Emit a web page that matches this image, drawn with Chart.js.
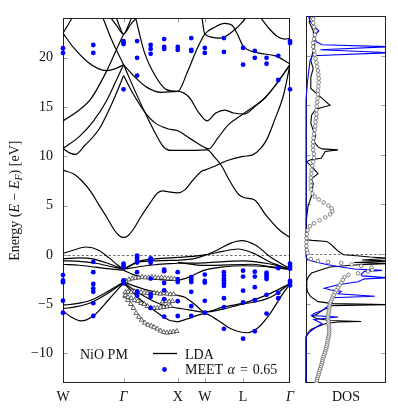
<!DOCTYPE html>
<html>
<head>
<meta charset="utf-8">
<script src="https://cdn.jsdelivr.net/npm/chart.js@4.4.0/dist/chart.umd.min.js"></script>
<style>
  html, body { margin: 0; padding: 0; background: #fff; }
  #wrap { position: relative; width: 398px; height: 418px; }
  #bands { position: absolute; left: 0; top: 0; width: 300px; height: 418px; }
  #dos { position: absolute; left: 296px; top: 0; width: 102px; height: 418px; }
</style>
</head>
<body>
<div id="wrap">
  <canvas id="bands" width="300" height="418"></canvas>
  <canvas id="dos" width="102" height="418"></canvas>
</div>
<script>
// High-symmetry path (units of 2π/a) and energy ticks
const kTicks = [0, 1.118, 2.118, 2.618, 3.325, 4.191];
const kLabels = ['W', 'Γ', 'X', 'W', 'L', 'Γ'];
const energyTicks = [-10, -5, 0, 5, 10, 15, 20];

// LDA bands, [k, E] pairs, conduction side
const bandU1 = [[0, 22.5], [0.1, 23.4], [0.19, 24.3]];
const bandU2 = [[0, 22.5], [0.2, 21.0], [0.45, 19.6], [0.65, 18.9], [0.8, 18.7], [0.97, 18.9], [1.118, 19.3]];
const bandU3 = [[0, 13.6], [0.25, 14.5], [0.51, 15.8], [0.81, 18.7], [1.0, 21.0], [1.118, 22.4]];
const bandU4 = [[0, 10.8], [0.3, 12.0], [0.55, 13.5], [0.8, 15.6], [1.0, 17.9], [1.118, 19.3]];
const bandU5 = [[0, 10.8], [0.12, 10.35], [0.23, 10.2], [0.4, 11.1], [0.67, 12.8], [0.97, 16.2], [1.118, 18.2]];
const bandU6 = [[0.85, 24.3], [1.0, 23.2], [1.118, 22.4], [1.2, 23.2], [1.28, 24.3]];
const bandU7 = [[0.97, 24.3], [1.05, 23.1], [1.118, 22.4], [1.25, 23.4], [1.4, 24.3]];
const bandC1 = [[0, 8.6], [0.2, 8.2], [0.35, 7.5], [0.51, 6.45], [0.66, 5.1], [0.81, 3.8], [0.95, 2.5], [1.04, 1.95], [1.118, 1.77],
                [1.2, 1.95], [1.3, 2.6], [1.43, 3.8], [1.6, 5.2], [1.75, 6.3], [1.84, 6.5], [1.95, 6.4], [2.118, 6.3], [2.25, 6.6],
                [2.4, 7.6], [2.56, 8.5], [2.618, 8.6], [2.8, 9.0], [3.05, 9.6], [3.325, 10.0], [3.5, 10.15], [3.65, 10.8],
                [3.77, 11.8], [3.9, 13.6], [4.07, 16.2], [4.191, 19.3]];
const bandC2 = [[0.72, 24.3], [0.9, 21.8], [1.118, 19.3], [1.3, 17.0], [1.5, 14.6], [1.69, 12.5], [1.85, 11.0], [1.99, 10.6],
                [2.118, 10.6], [2.4, 10.6], [2.66, 10.65], [2.8, 9.9], [2.92, 9.1], [3.1, 7.3], [3.25, 6.1], [3.35, 5.8],
                [3.53, 5.6], [3.75, 4.0], [4.0, 2.5], [4.191, 1.77]];
const bandC3 = [[1.118, 18.2], [1.3, 16.3], [1.51, 14.5], [1.7, 13.4], [1.93, 12.8], [2.118, 12.6], [2.35, 11.8], [2.618, 10.9],
                [2.69, 10.75], [2.85, 11.8], [3.05, 13.2], [3.325, 14.3], [3.74, 16.0], [4.0, 17.8], [4.191, 19.3]];
const bandC4 = [[1.118, 19.3], [1.3, 18.2], [1.55, 17.0], [1.81, 16.5], [2.118, 16.6], [2.33, 16.0], [2.5, 14.5], [2.66, 13.6],
                [2.82, 14.4], [2.99, 14.7], [3.15, 14.4], [3.35, 14.3], [3.55, 15.1], [3.74, 16.0], [4.0, 17.8], [4.191, 19.3]];
const bandC5 = [[1.33, 24.3], [1.5, 20.6], [1.7, 18.2], [1.9, 16.8], [2.118, 16.6], [2.3, 18.6], [2.45, 20.6], [2.618, 22.4],
                [2.8, 23.1], [2.98, 23.5], [3.12, 23.3], [3.22, 22.4], [3.325, 21.2], [3.6, 20.5], [3.92, 20.2], [4.191, 19.4]];
const bandC6 = [[2.56, 24.3], [2.618, 22.4], [2.9, 22.0], [3.2, 23.0], [3.42, 24.3]];
const bandC7 = [[3.62, 24.3], [3.8, 23.0], [3.95, 22.2], [4.1, 21.9], [4.191, 22.0]];

// LDA bands, valence side
const bandV1 = [[0, 0.15], [0.2, 0.5], [0.43, 0.8], [0.65, 0.5], [0.85, -0.3], [1.0, -1.0], [1.118, -1.45]];
const bandV2 = [[0, -0.4], [0.3, -0.3], [0.55, -0.4], [0.85, -0.9], [1.118, -1.45]];
const bandV3 = [[0, -0.6], [0.3, -0.65], [0.6, -0.85], [0.9, -1.2], [1.118, -1.45]];
const bandV4 = [[0, -0.95], [0.3, -1.05], [0.6, -1.25], [0.9, -1.45], [1.118, -1.55]];
const bandL1 = [[0, -5.1], [0.25, -4.95], [0.51, -4.6], [0.8, -3.8], [1.118, -2.75]];
const bandL2 = [[0, -5.45], [0.25, -5.25], [0.51, -4.85], [0.8, -4.0], [1.118, -2.8]];
const bandL3 = [[0, -5.7], [0.15, -6.3], [0.33, -6.7], [0.57, -6.15], [0.85, -4.5], [1.118, -2.85]];
const bandGX1 = [[1.118, -1.45], [1.4, -0.75], [1.72, -0.6], [2.118, -0.55]];
const bandGX2 = [[1.118, -1.45], [1.4, -0.65], [1.7, -0.4], [2.118, -0.25]];
const bandGX3 = [[1.118, -1.45], [1.4, -1.2], [1.7, -1.0], [2.118, -0.85]];
const bandGX4 = [[1.118, -1.55], [1.3, -2.0], [1.6, -2.4], [2.118, -2.6]];
const bandGX5 = [[1.118, -2.75], [1.4, -3.3], [1.72, -3.8], [2.118, -4.1]];
const bandGX6 = [[1.118, -2.8], [1.35, -3.7], [1.6, -4.5], [1.85, -5.1], [2.118, -5.4]];
const bandGX7 = [[1.118, -2.85], [1.4, -4.4], [1.75, -5.9], [1.95, -6.6], [2.118, -6.8]];
const bandXG1 = [[2.118, -0.55], [2.4, -0.4], [2.618, -0.05], [2.85, 0.5], [3.1, 1.2], [3.3, 1.45], [3.55, 1.0], [3.85, -0.3], [4.191, -1.4]];
const bandXG2 = [[2.118, -0.25], [2.4, -0.15], [2.618, 0.0], [2.95, 0.35], [3.23, 0.6], [3.5, 0.2], [3.83, -0.75], [4.191, -1.45]];
const bandXG3 = [[2.118, -0.85], [2.618, -0.8], [3.325, -0.6], [3.8, -0.9], [4.191, -1.45]];
const bandXG4 = [[2.118, -0.75], [2.618, -1.07], [3.5, -0.95], [3.96, -1.35], [4.191, -1.45]];
const bandXG5 = [[2.118, -2.6], [2.3, -2.3], [2.618, -1.55], [3.0, -1.2], [3.325, -1.1], [3.8, -1.2], [4.191, -1.45]];
const bandXG6 = [[2.118, -4.1], [2.25, -4.3], [2.45, -5.1], [2.618, -5.8], [2.95, -5.3], [3.325, -4.9], [3.83, -3.9], [4.191, -2.9]];
const bandXG7 = [[2.118, -5.4], [2.35, -5.6], [2.618, -5.8], [2.95, -5.5], [3.23, -5.1], [3.83, -4.3], [4.191, -2.9]];
const bandXG8 = [[2.118, -6.8], [2.35, -6.4], [2.618, -5.95], [2.85, -6.6], [3.1, -7.5], [3.4, -7.9], [3.6, -7.4], [3.83, -5.9], [4.05, -4.0], [4.191, -2.95]];

const ldaBands = [bandU1, bandU2, bandU3, bandU4, bandU5, bandU6, bandU7, bandC1, bandC2, bandC3, bandC4, bandC5, bandC6, bandC7,
                  bandV1, bandV2, bandV3, bandV4, bandL1, bandL2, bandL3, bandGX1, bandGX2, bandGX3, bandGX4, bandGX5, bandGX6,
                  bandGX7, bandXG1, bandXG2, bandXG3, bandXG4, bandXG5, bandXG6, bandXG7, bandXG8];

// MEET alpha = 0.65 quasiparticle energies at sampled k points
const meetK = [0, 0.559, 1.118, 1.368, 1.618, 1.868, 2.118, 2.368, 2.618, 2.971, 3.325, 3.541, 3.758, 3.974, 4.191];
const meetUpper = [[20.97, 20.5], [21.3, 20.5], [21.7, 21.55, 21.4, 16.8], [21.7, 20.0, 18.2], [21.3, 20.9, 20.4],
                   [21.9, 21.1, 20.9], [21.1, 20.8], [22.0, 20.8, 20.7], [21.0, 20.5], [22.0, 20.6], [21.0, 19.3],
                   [20.7, 20.0], [20.0, 19.4], [20.2, 17.75], [21.7, 21.5, 16.8]];
const meetLower = [[-2.05, -2.6, -2.78, -4.65, -5.87], [-0.7, -1.75, -2.95, -3.4, -3.75, -4.9, -6.2],
                   [-0.9, -1.07, -1.25, -2.6, -2.75, -2.9], [-0.07, -0.27, -0.52, -0.77, -1.75, -3.7, -3.9, -4.15],
                   [-0.35, -0.55, -0.8, -2.4, -4.0, -4.25, -5.4], [-1.5, -1.65, -2.85, -3.6, -4.5, -6.27],
                   [-1.75, -2.45, -2.75, -4.7, -6.2], [-2.25, -2.5, -2.75, -3.75, -5.2, -6.2], [-2.0, -2.65, -2.8, -4.66, -5.87],
                   [-1.75, -2.08, -2.4, -2.6, -2.9, -3.15, -4.4, -5.3, -7.5], [-1.6, -2.2, -3.63, -4.83, -8.5],
                   [-1.7, -2.2, -3.28, -4.6, -7.75], [-1.8, -2.03, -2.24, -2.45, -4.05, -5.95], [-1.35, -3.85, -4.4],
                   [-0.9, -1.15, -1.4, -2.65, -2.85, -3.1]];

// ARPES points along Γ-X (open triangles)
const arpesA = [[1.16, -2.65], [1.22, -2.5], [1.28, -2.4], [1.34, -2.35], [1.4, -2.3], [1.46, -2.25], [1.52, -2.3], [1.58, -2.3],
                [1.64, -2.25], [1.7, -2.3], [1.76, -2.35], [1.82, -2.3], [1.88, -2.35], [1.94, -2.4], [2.0, -2.4], [2.06, -2.45]];
const arpesB = [[1.15, -3.8], [1.2, -3.75], [1.26, -3.8], [1.32, -3.7], [1.38, -3.75], [1.44, -3.8], [1.5, -3.85], [1.56, -3.9],
                [1.62, -3.9], [1.68, -3.85], [1.74, -3.9], [1.8, -3.95], [1.86, -3.9], [1.92, -3.95], [1.98, -4.0], [2.04, -4.0]];
const arpesC = [[1.15, -4.1], [1.2, -4.3], [1.26, -4.4], [1.32, -4.6], [1.38, -4.7], [1.44, -4.9], [1.5, -5.0], [1.56, -5.2],
                [1.62, -5.35], [1.68, -5.4], [1.74, -5.4], [1.8, -5.35], [1.86, -5.3], [1.92, -5.25], [1.98, -5.2],
                [1.84, -4.75], [1.9, -4.7], [1.96, -4.75], [2.02, -4.7]];
const arpesD = [[1.15, -4.2], [1.2, -4.6], [1.25, -5.0], [1.3, -5.4], [1.35, -5.9], [1.4, -6.3], [1.45, -6.6], [1.51, -6.9],
                [1.57, -7.1], [1.63, -7.2], [1.68, -7.35], [1.74, -7.5], [1.8, -7.7], [1.86, -7.85], [1.92, -7.9], [1.98, -7.85],
                [2.04, -7.8], [2.1, -7.75]];

// Density of states, [E, DOS] pairs
const dosLda = [[-13, 0], [-8.5, 0], [-8.0, 0.2], [-7.6, 0.6], [-7.3, 1.5], [-7.0, 2.5], [-6.85, 4.0], [-6.8, 6.9], [-6.7, 3.0],
                [-6.5, 1.3], [-6.3, 0.8], [-6.0, 1.5], [-5.7, 2.0], [-5.4, 2.8], [-5.2, 3.1], [-5.1, 10.5], [-5.0, 3.4],
                [-4.8, 1.5], [-4.3, 0.6], [-3.8, 0.2], [-3.2, 0.05], [-2.7, 0.1], [-2.3, 0.3], [-1.9, 0.7], [-1.6, 1.8],
                [-1.3, 3.0], [-1.1, 6.0], [-0.95, 10.5], [-0.85, 6.0], [-0.7, 10.5], [-0.6, 7.0], [-0.42, 10.5], [-0.3, 8.0],
                [-0.2, 6.7], [-0.07, 4.7], [0.3, 4.0], [0.76, 3.4], [1.0, 3.1], [1.27, 2.6], [1.38, 0.8], [1.44, 0.05],
                [2.5, 0.05], [3.5, 0.05], [4.8, 0.25], [5.8, 0.66], [7.1, 0.9], [7.6, 0.7], [8.1, 1.5], [8.9, 0.66], [9.3, 0.05],
                [9.5, 0.6], [9.65, 1.9], [10.35, 2.4], [10.5, 4.0], [10.6, 2.0], [10.8, 1.5], [11.3, 1.0], [12.0, 1.2],
                [12.5, 0.9], [13.2, 0.6], [14.0, 0.7], [14.6, 1.2], [14.8, 2.1], [15.0, 3.0], [15.5, 2.3], [16.2, 1.3],
                [16.7, 0.6], [17.85, 0.6], [18.7, 0.9], [19.5, 0.6], [20.2, 0.8], [21.0, 1.1], [22.5, 0.9], [23.4, 0.4], [24.3, 0.6]];
const dosMeet = [[-13, 0], [-8.3, 0], [-7.9, 0.4], [-7.4, 1.2], [-7.0, 2.0], [-6.6, 1.0], [-6.35, 4.0], [-6.2, 0.7], [-6.0, 1.0],
                 [-5.7, 2.0], [-5.2, 2.8], [-4.7, 3.3], [-4.4, 3.2], [-4.25, 8.6], [-4.0, 4.0], [-3.76, 4.4], [-3.6, 3.0],
                 [-3.45, 2.3], [-3.1, 4.0], [-2.8, 6.5], [-2.5, 7.3], [-2.4, 10.5], [-2.2, 7.0], [-2.05, 6.9], [-1.75, 7.3],
                 [-1.65, 9.5], [-1.5, 6.0], [-1.25, 4.0], [-1.07, 2.75], [-0.8, 1.2], [-0.57, 0.2], [-0.3, 0], [15.5, 0],
                 [17.5, 0.2], [19.5, 0.5], [20.0, 0.8], [20.3, 10.5], [20.6, 1.8], [20.9, 10.5], [21.1, 2.0], [21.4, 1.3],
                 [22.0, 1.0], [22.5, 1.6], [23.0, 1.0], [23.5, 0.5], [24.3, 0.2]];
const dosExp = [[23.7, 0.9], [23.3, 0.9], [22.9, 1.0], [22.5, 1.2], [22.1, 1.1], [21.7, 1.0], [21.3, 0.9], [20.9, 0.9], [20.5, 1.0],
                [20.1, 1.1], [19.7, 1.2], [19.3, 1.3], [18.9, 1.4], [18.5, 1.5], [18.1, 1.55], [17.7, 1.6], [17.3, 1.6],
                [16.9, 1.55], [16.5, 1.5], [16.1, 1.5], [15.7, 1.45], [15.3, 1.4], [14.9, 1.35], [14.5, 1.3], [14.1, 1.3],
                [13.7, 1.25], [13.3, 1.2], [12.9, 1.15], [12.5, 1.1], [12.1, 1.0], [11.7, 0.95], [11.3, 0.9], [10.9, 0.85],
                [10.5, 0.9], [10.1, 1.0], [9.7, 1.0], [9.3, 0.9], [8.9, 0.8], [8.5, 0.7], [8.1, 0.65], [7.7, 0.6], [7.3, 0.6],
                [6.9, 0.6], [6.5, 0.65], [6.1, 0.8], [5.8, 1.1], [5.5, 1.6], [5.2, 2.2], [4.9, 2.8], [4.6, 3.2], [4.3, 3.3],
                [4.0, 3.0], [3.7, 2.4], [3.4, 1.7], [3.1, 1.0], [2.8, 0.5], [2.4, 0.2], [2.0, 0.1], [1.6, 0.05], [1.2, 0.05],
                [0.8, 0.05], [0.4, 0.1], [0.1, 0.2], [-0.5, 0.6], [-0.7, 1.5], [-0.8, 2.75], [-0.9, 4.4], [-1.05, 5.7],
                [-1.2, 6.9], [-1.35, 8.2], [-1.6, 8.3], [-1.75, 7.75], [-1.95, 6.5], [-2.1, 5.3], [-2.35, 4.8], [-2.6, 4.6],
                [-2.9, 4.4], [-3.15, 4.2], [-3.4, 4.0], [-3.65, 3.8], [-3.9, 3.6], [-4.15, 3.45], [-4.4, 3.3], [-4.6, 3.2],
                [-4.8, 3.1], [-5.0, 3.0], [-5.2, 2.95], [-5.4, 2.9], [-5.6, 2.9], [-5.8, 2.85], [-6.0, 2.8], [-6.2, 2.75],
                [-6.4, 2.75], [-6.6, 2.75], [-6.8, 2.8], [-7.0, 2.8], [-7.2, 2.85], [-7.4, 2.9], [-7.6, 2.9], [-7.8, 2.9],
                [-8.0, 2.9], [-8.2, 2.85], [-8.4, 2.8], [-8.6, 2.75], [-8.8, 2.7], [-9.0, 2.65], [-9.2, 2.6], [-9.4, 2.55],
                [-9.6, 2.5], [-9.8, 2.4], [-10.0, 2.35], [-10.2, 2.25], [-10.4, 2.2], [-10.6, 2.1], [-10.8, 2.05], [-11.0, 2.0],
                [-11.2, 1.9], [-11.4, 1.85], [-11.6, 1.75], [-11.8, 1.7], [-12.0, 1.6], [-12.2, 1.55], [-12.4, 1.45],
                [-12.6, 1.4], [-12.8, 1.35], [-13.0, 1.3]];

// Shared styling
const serif = 'Liberation Serif';
const eMin = -13;
const eMax = 24;

const kePoints = (arr) => arr.map(([k, e]) => ({ x: k, y: e }));   // band pairs -> {x, y}
const dosPoints = (arr) => arr.map(([e, d]) => ({ x: d, y: e }));  // DOS pairs -> {x, y} (DOS horizontal)
const minus = (v) => String(v).replace('-', '\u2212');

// Frame, inward ticks and dashed Fermi level
const framePlugin = {
  id: 'framePlugin',
  beforeDatasetsDraw(chart, args, opts) {
    const { ctx, chartArea: a, scales } = chart;
    const L = Math.round(a.left) + 0.5, R = Math.round(a.right) - 0.5;
    const T = Math.round(a.top) + 0.5, B = Math.round(a.bottom) - 0.5;
    ctx.save();

    /* Fermi level */
    const y0 = Math.round(scales.y.getPixelForValue(0)) + 0.5;
    ctx.strokeStyle = '#333';
    ctx.lineWidth = 0.7;
    ctx.setLineDash([2.5, 2]);
    ctx.beginPath(); ctx.moveTo(L, y0); ctx.lineTo(R, y0); ctx.stroke();
    ctx.setLineDash([]);

    /* Inward ticks */
    ctx.strokeStyle = '#999';
    ctx.lineWidth = 1;
    energyTicks.forEach((v) => {
      const y = Math.round(scales.y.getPixelForValue(v)) + 0.5;
      ctx.beginPath();
      if (opts.leftTicks) { ctx.moveTo(L, y); ctx.lineTo(L + 4, y); }
      if (opts.rightTicks) { ctx.moveTo(R, y); ctx.lineTo(R - 4, y); }
      ctx.stroke();
    });
    if (opts.kTicks) {
      kTicks.slice(1, -1).forEach((k) => {
        const x = Math.round(scales.x.getPixelForValue(k)) + 0.5;
        ctx.beginPath();
        ctx.moveTo(x, B); ctx.lineTo(x, B - 4);
        ctx.moveTo(x, T); ctx.lineTo(x, T + 4);
        ctx.stroke();
      });
    }

    /* Box */
    ctx.strokeStyle = '#222';
    ctx.strokeRect(L, T, R - L, B - T);
    ctx.restore();
  },
};

// Rotated axis title and inline legend for the band panel
const labelPlugin = {
  id: 'labelPlugin',
  afterDraw(chart) {
    const { ctx, chartArea: a } = chart;
    ctx.save();
    ctx.fillStyle = '#111';
    ctx.textBaseline = 'alphabetic';

    /* "Energy (E − E_F) [eV]" */
    const parts = [
      ['Energy (', 'normal', 14, 0], ['E', 'italic', 14, 0], [' \u2212 ', 'normal', 14, 0],
      ['E', 'italic', 14, 0], ['F', 'italic', 10, 3], [') [eV]', 'normal', 14, 0],
    ];
    const widths = parts.map(([t, s, z]) => { ctx.font = `${s} ${z}px "${serif}"`; return ctx.measureText(t).width; });
    const total = widths.reduce((p, w) => p + w, 0);
    ctx.translate(19, (a.top + a.bottom) / 2);
    ctx.rotate(-Math.PI / 2);
    let x = -total / 2;
    parts.forEach(([t, s, z, dy], i) => {
      ctx.font = `${s} ${z}px "${serif}"`;
      ctx.fillText(t, x, dy);
      x += widths[i];
    });
    ctx.setTransform(1, 0, 0, 1, 0, 0);

    /* Legend */
    ctx.font = `14px "${serif}"`;
    ctx.fillText('NiO PM', 80, 359);
    ctx.fillText('LDA', 185, 359);
    ctx.strokeStyle = '#000';
    ctx.lineWidth = 1.3;
    ctx.beginPath(); ctx.moveTo(153, 353.5); ctx.lineTo(177, 353.5); ctx.stroke();
    ctx.fillStyle = '#0000ff';
    ctx.beginPath(); ctx.arc(164.5, 369.5, 2.4, 0, Math.PI * 2); ctx.fill();
    ctx.fillStyle = '#111';
    let lx = 185;
    ctx.fillText('MEET', lx, 374); lx += ctx.measureText('MEET ').width + 1;
    ctx.font = `italic 14px "${serif}"`;
    ctx.fillText('\u03b1', lx, 374); lx += ctx.measureText('\u03b1').width + 5;
    ctx.font = `14px "${serif}"`;
    ctx.fillText('=', lx, 374); lx += ctx.measureText('=').width + 5;
    ctx.fillText('0.65', lx, 374);
    ctx.restore();
  },
};

// Band-structure panel
const meetPoints = meetK.flatMap((k, i) => [...meetUpper[i], ...meetLower[i]].map((e) => ({ x: k, y: e })));
const arpesSets = [arpesA, arpesB, arpesC, arpesD].map((rows) => ({
  data: kePoints(rows),
  showLine: false,
  pointStyle: 'triangle',
  pointRadius: 2.7,
  borderColor: '#222',
  backgroundColor: '#fff',
  borderWidth: 0.7,
}));
const bandSets = ldaBands.map((band) => ({
  data: kePoints(band),
  showLine: true,
  borderColor: '#000',
  borderWidth: 1.2,
  pointRadius: 0,
  cubicInterpolationMode: 'monotone',
}));

new Chart(document.getElementById('bands'), {
  type: 'scatter',
  data: {
    datasets: [
      { data: meetPoints, showLine: false, pointRadius: 2.4, pointBorderWidth: 0, backgroundColor: '#0000ff', clip: false },
      ...arpesSets,
      ...bandSets,
    ],
  },
  options: {
    responsive: false,
    animation: false,
    events: [],
    layout: { padding: { top: 16, right: 5, left: 0, bottom: 0 } },
    plugins: { legend: { display: false }, tooltip: { enabled: false }, framePlugin: { leftTicks: true, kTicks: true } },
    scales: {
      x: {
        type: 'linear', min: 0, max: kTicks[kTicks.length - 1],
        afterBuildTicks: (s) => { s.ticks = kTicks.map((v) => ({ value: v })); },
        afterFit: (s) => { s.height = 35; },
        grid: { display: false, drawTicks: false },
        border: { display: false },
        ticks: {
          autoSkip: false, maxRotation: 0, padding: 6, color: '#111',
          callback: (v, i) => kLabels[i],
          font: (ctx) => ({ family: serif, size: 14, style: kLabels[ctx.index] === 'Γ' ? 'italic' : 'normal' }),
        },
      },
      y: {
        min: eMin, max: eMax,
        afterBuildTicks: (s) => { s.ticks = energyTicks.map((v) => ({ value: v })); },
        afterFit: (s) => { s.width = 63; },
        grid: { display: false, drawTicks: false },
        border: { display: false },
        ticks: { padding: 10, color: '#111', font: { family: serif, size: 14 }, callback: (v) => minus(v) },
      },
    },
  },
  plugins: [framePlugin, labelPlugin],
});

// DOS panel
const dosClip = { left: 2, top: 0, right: 0, bottom: 0 };
new Chart(document.getElementById('dos'), {
  type: 'scatter',
  data: {
    datasets: [
      { data: dosPoints(dosExp), showLine: false, pointRadius: 1.8, borderColor: '#666', backgroundColor: '#fff', borderWidth: 0.8, clip: dosClip },
      { data: dosPoints(dosMeet), showLine: true, pointRadius: 0, borderColor: '#0000ff', borderWidth: 1.1, tension: 0, clip: dosClip },
      { data: dosPoints(dosLda), showLine: true, pointRadius: 0, borderColor: '#000', borderWidth: 1.1, tension: 0, clip: dosClip },
    ],
  },
  options: {
    responsive: false,
    animation: false,
    events: [],
    layout: { padding: { top: 16, right: 12, left: 10, bottom: 0 } },
    plugins: { legend: { display: false }, tooltip: { enabled: false }, framePlugin: { leftTicks: true, rightTicks: true } },
    scales: {
      x: {
        type: 'linear', min: 0, max: 10,
        afterBuildTicks: (s) => { s.ticks = [{ value: 5 }]; },
        afterFit: (s) => { s.height = 35; },
        grid: { display: false, drawTicks: false },
        border: { display: false },
        ticks: { padding: 6, color: '#111', font: { family: serif, size: 14 }, callback: () => 'DOS' },
      },
      y: { display: false, min: eMin, max: eMax },
    },
  },
  plugins: [framePlugin],
});
</script>
</body>
</html>
